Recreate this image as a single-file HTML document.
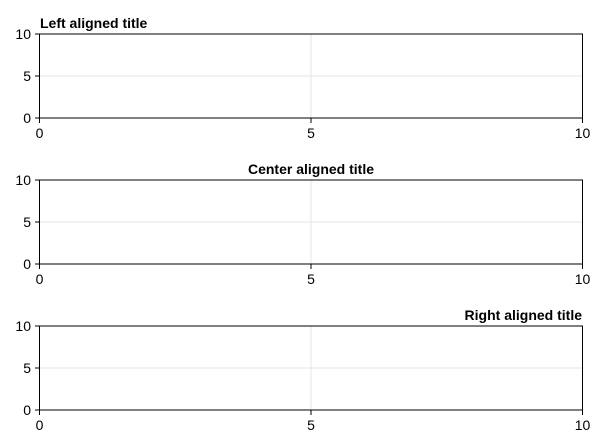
<!DOCTYPE html>
<html><head><meta charset="utf-8"><style>
html,body{margin:0;padding:0;background:#fff;}
svg{display:block;font-family:"Liberation Sans",Arial,sans-serif;}
</style></head><body>
<svg width="596" height="446" viewBox="0 0 596 446" xmlns="http://www.w3.org/2000/svg">
<g id="p1">
<line x1="311" y1="34" x2="311" y2="118" stroke="#e6e6e6" stroke-width="1"/>
<line x1="39.5" y1="76" x2="582.5" y2="76" stroke="#e6e6e6" stroke-width="1"/>
<rect x="39.5" y="34" width="543" height="84" fill="none" stroke="#000" stroke-width="1"/>
<g stroke="#000" stroke-width="1">
<line x1="35" y1="34" x2="39.5" y2="34"/><line x1="35" y1="76" x2="39.5" y2="76"/><line x1="35" y1="118" x2="39.5" y2="118"/>
<line x1="39.5" y1="118" x2="39.5" y2="123"/><line x1="311" y1="118" x2="311" y2="123"/><line x1="582.5" y1="118" x2="582.5" y2="123"/>
</g>
<g font-size="14" fill="#000">
<text x="31" y="39" text-anchor="end">10</text><text x="31" y="81" text-anchor="end">5</text><text x="31" y="123" text-anchor="end">0</text>
<text x="39.5" y="138" text-anchor="middle">0</text><text x="311" y="138" text-anchor="middle">5</text><text x="582.5" y="138" text-anchor="middle">10</text>
</g>
<text x="40" y="28" font-size="14" font-weight="bold">Left aligned title</text>
</g>
<g transform="translate(0,146)">
<line x1="311" y1="34" x2="311" y2="118" stroke="#e6e6e6" stroke-width="1"/>
<line x1="39.5" y1="76" x2="582.5" y2="76" stroke="#e6e6e6" stroke-width="1"/>
<rect x="39.5" y="34" width="543" height="84" fill="none" stroke="#000" stroke-width="1"/>
<g stroke="#000" stroke-width="1">
<line x1="35" y1="34" x2="39.5" y2="34"/><line x1="35" y1="76" x2="39.5" y2="76"/><line x1="35" y1="118" x2="39.5" y2="118"/>
<line x1="39.5" y1="118" x2="39.5" y2="123"/><line x1="311" y1="118" x2="311" y2="123"/><line x1="582.5" y1="118" x2="582.5" y2="123"/>
</g>
<g font-size="14" fill="#000">
<text x="31" y="39" text-anchor="end">10</text><text x="31" y="81" text-anchor="end">5</text><text x="31" y="123" text-anchor="end">0</text>
<text x="39.5" y="138" text-anchor="middle">0</text><text x="311" y="138" text-anchor="middle">5</text><text x="582.5" y="138" text-anchor="middle">10</text>
</g>
<text x="311" y="28" font-size="14" font-weight="bold" text-anchor="middle">Center aligned title</text>
</g>
<g transform="translate(0,292)">
<line x1="311" y1="34" x2="311" y2="118" stroke="#e6e6e6" stroke-width="1"/>
<line x1="39.5" y1="76" x2="582.5" y2="76" stroke="#e6e6e6" stroke-width="1"/>
<rect x="39.5" y="34" width="543" height="84" fill="none" stroke="#000" stroke-width="1"/>
<g stroke="#000" stroke-width="1">
<line x1="35" y1="34" x2="39.5" y2="34"/><line x1="35" y1="76" x2="39.5" y2="76"/><line x1="35" y1="118" x2="39.5" y2="118"/>
<line x1="39.5" y1="118" x2="39.5" y2="123"/><line x1="311" y1="118" x2="311" y2="123"/><line x1="582.5" y1="118" x2="582.5" y2="123"/>
</g>
<g font-size="14" fill="#000">
<text x="31" y="39" text-anchor="end">10</text><text x="31" y="81" text-anchor="end">5</text><text x="31" y="123" text-anchor="end">0</text>
<text x="39.5" y="138" text-anchor="middle">0</text><text x="311" y="138" text-anchor="middle">5</text><text x="582.5" y="138" text-anchor="middle">10</text>
</g>
<text x="582" y="28" font-size="14" font-weight="bold" text-anchor="end">Right aligned title</text>
</g>
</svg>
</body></html>
